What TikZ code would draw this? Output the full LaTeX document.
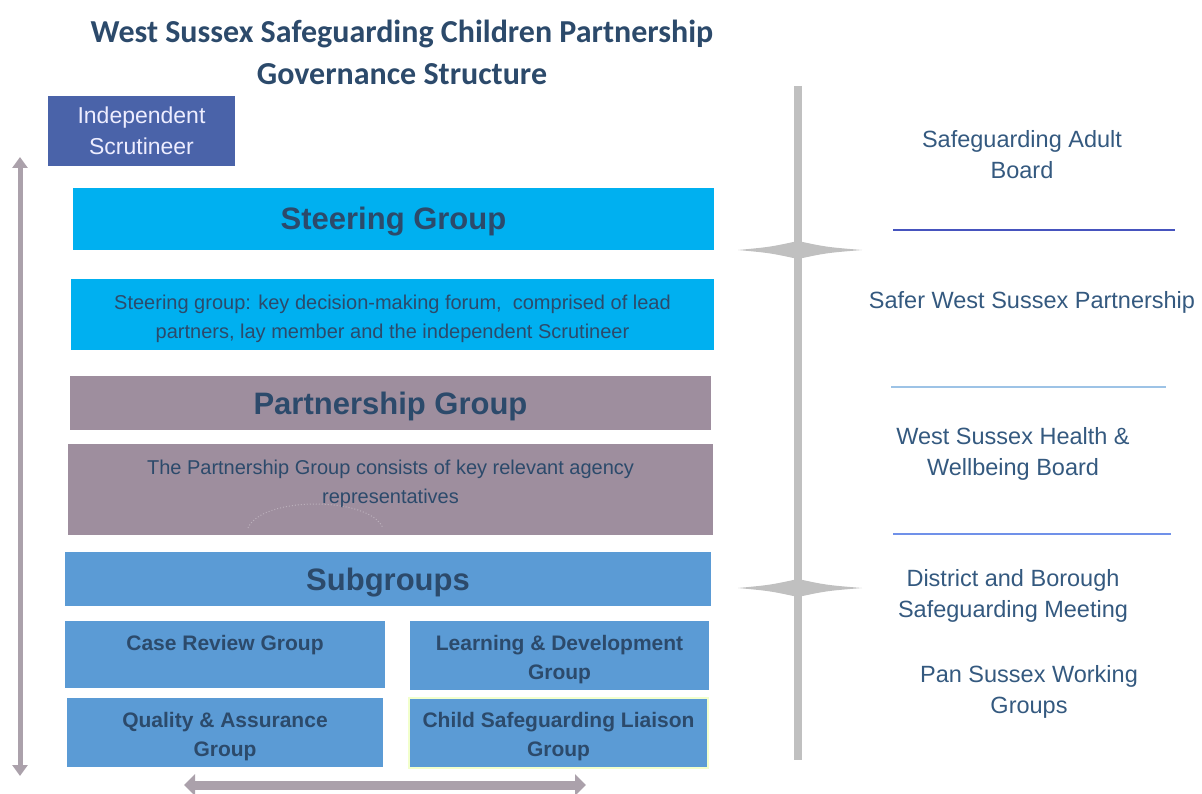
\documentclass[tikz,border=0pt]{standalone}
\usepackage{fontspec}
\setmainfont{Liberation Sans}
\newfontfamily\titlefont{Carlito}
\usetikzlibrary{arrows.meta}
\definecolor{navy}{HTML}{2C4A6B}
\definecolor{boardblue}{HTML}{34597F}
\definecolor{scrutblue}{HTML}{4A63A9}
\definecolor{cyanbar}{HTML}{00B0F0}
\definecolor{mauve}{HTML}{9E8E9E}
\definecolor{subblue}{HTML}{5B9BD5}
\definecolor{arrowgrey}{HTML}{ABA1AB}
\definecolor{railgrey}{HTML}{C0C0C0}
\tikzset{
	bar/.style={fill=#1, inner sep=0pt, text=navy},
	heading/.style={text height=22pt, text depth=0pt, font=\fontsize{31}{36}\selectfont\bfseries},
	desc/.style={align=center, text=navy, font=\fontsize{20}{29}\selectfont},
	desclbl/.style={desc, anchor=north, inner sep=0pt, yshift=-16pt},
	subbox/.style={fill=subblue, inner sep=0pt, label={[sublbl]north:{#1}}},
	sublbl/.style={anchor=north, inner sep=0pt, yshift=-14.5pt, align=center, text=navy, font=\fontsize{21}{29}\selectfont\bfseries},
	board/.style={align=center, text=boardblue, font=\fontsize{23.5}{31}\selectfont},
	sep/.style={line width=2pt, draw=#1},
	fatarrow/.style 2 args={draw=arrowgrey, line width=#1, {Triangle[width=#2,length=11pt]}-{Triangle[width=#2,length=11pt]}},
	star/.style={fill=railgrey}
}
\begin{document}
\begin{tikzpicture}[x=1pt,y=-1pt]
	\useasboundingbox (0,0) rectangle (1202,794);
	
	\node (title) [align=center, text=navy, font=\titlefont\fontsize{32}{42}\selectfont\bfseries] at (402,52) {West Sussex Safeguarding Children Partnership\\Governance Structure};
	
	\node (scrut) [bar=scrutblue, text=white!93!blue, minimum width=187pt, minimum height=70pt, align=center, font=\fontsize{23}{31}\selectfont] at (141.5,131) {Independent\\Scrutineer};
	
	\node (steer) [bar=cyanbar, heading, minimum width=641pt, minimum height=62pt] at (393.5,219) {Steering Group};
	\node (steerdesc) [bar=cyanbar, minimum width=643pt, minimum height=71pt, label={[desclbl]north:{Steering group: key decision-making forum,\ \ comprised of lead\\partners, lay member and the independent Scrutineer}}] at (392.5,314.5) {};
	
	\node (partner) [bar=mauve, heading, minimum width=641pt, minimum height=54pt] at (390.5,403) {Partnership Group};
	\node (partdesc) [bar=mauve, minimum width=645pt, minimum height=91pt, label={[desclbl]north:{The Partnership Group consists of key relevant agency\\representatives}}] at (390.5,489.5) {};
	\draw [mauve!70!white, dotted, line width=1pt] (248,528) .. controls (262,496) and (369,496) .. (383,528);
	
	\node (subgroups) [bar=subblue, heading, minimum width=646pt, minimum height=54pt] at (388,579) {Subgroups};
	\node (caserev) [subbox={Case Review Group}, minimum width=320pt, minimum height=67pt] at (225,654.5) {};
	\node (learning) [subbox={Learning \& Development\\Group}, minimum width=299pt, minimum height=69pt] at (559.5,655.5) {};
	\node (quality) [subbox={Quality \& Assurance\\Group}, minimum width=316pt, minimum height=69pt] at (225,732.5) {};
	\node (liaison) [subbox={Child Safeguarding Liaison\\Group}, draw=green!25!yellow!20!white, line width=1.5pt, minimum width=299pt, minimum height=70pt] at (558.5,733) {};
	
	\coordinate (ltop) at (20,157);
	\coordinate (lbot) at (20,776);
	\draw [fatarrow={5pt}{15pt}] (ltop) -- (lbot);
	\coordinate (bleft) at (184,785);
	\coordinate (bright) at (586,785);
	\draw [fatarrow={9pt}{21pt}] (bleft) -- (bright);
	
	\coordinate (rtop) at (798,86);
	\coordinate (rbot) at (798,760);
	\draw [railgrey, line width=8pt] (rtop) -- (rbot);
	\foreach \y in {250,588}
		\fill [star] (738,\y) .. controls (770,\y-3) .. (798,\y-9) .. controls (826,\y-3) .. (862,\y) .. controls (826,\y+3) .. (798,\y+9) .. controls (770,\y+3) .. (738,\y);
	
	\node (sab) [board] at (1022,154.5) {Safeguarding Adult\\Board};
	\draw [sep=blue!45!navy!80!white] (893,230) -- (1175,230);
	\node (swsp) [board] at (1032,302) {Safer West Sussex Partnership};
	\draw [sep=subblue!60!white] (891,387) -- (1166,387);
	\node (hwb) [board] at (1013,454) {West Sussex Health \&\\Wellbeing Board};
	\draw [sep=blue!30!subblue!75!white] (893,534) -- (1171,534);
	\node (dbsm) [board] at (1013,596) {District and Borough\\Safeguarding Meeting};
	\node (psw) [board] at (1029,692) {Pan Sussex Working\\Groups};
\end{tikzpicture}
\end{document}
